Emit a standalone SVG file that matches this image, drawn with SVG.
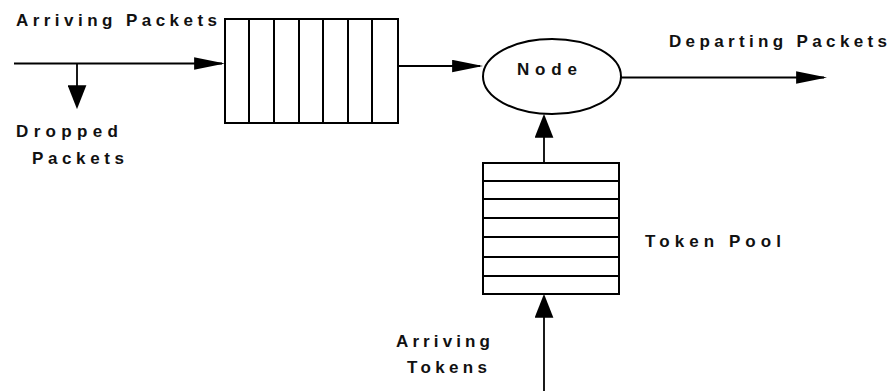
<svg xmlns="http://www.w3.org/2000/svg" width="896" height="391" viewBox="0 0 896 391">
  <style>
    .box { fill: #fff; stroke: #000; stroke-width: 2; }
    .div { stroke: #000; stroke-width: 2; fill: none; }
    .wire { stroke: #000; stroke-width: 1.8; fill: none; }
    .lbl { font-family: "Liberation Sans", Arial, sans-serif; font-weight: bold; font-size: 17px; fill: #111; }
  </style>
  <defs>
    <!-- long, slim head for horizontal links -->
    <marker id="headLong" markerUnits="userSpaceOnUse" markerWidth="31" markerHeight="13" viewBox="0 0 30 12" refX="27" refY="6" orient="auto">
      <path d="M0,0 L30,6 L0,12 z" fill="#000"/>
    </marker>
    <!-- short, wide head for vertical links -->
    <marker id="headWide" markerUnits="userSpaceOnUse" markerWidth="24" markerHeight="19" viewBox="0 0 23 18" refX="20" refY="9" orient="auto">
      <path d="M0,0 L23,9 L0,18 z" fill="#000"/>
    </marker>
  </defs>

  <rect width="896" height="391" fill="#fff"/>

  <!-- packet queue -->
  <g id="packet-queue">
    <rect class="box" x="225" y="19" width="173" height="104"/>
    <path class="div" d="M249,19 V123 M274,19 V123 M299,19 V123 M323,19 V123 M348,19 V123 M372,19 V123"/>
  </g>

  <!-- node -->
  <g id="node">
    <ellipse class="box" cx="552" cy="76.5" rx="69" ry="37.5"/>
    <text class="lbl" x="517" y="75" textLength="60" lengthAdjust="spacing">Node</text>
  </g>

  <!-- token pool -->
  <g id="token-pool">
    <rect class="box" x="483" y="163" width="136" height="131"/>
    <path class="div" d="M483,181 H619 M483,199 H619 M483,218 H619 M483,237 H619 M483,257 H619 M483,276 H619"/>
  </g>

  <!-- connectors -->
  <g id="connectors">
    <path class="wire" d="M14,63.5 H222" marker-end="url(#headLong)"/>
    <path class="wire" d="M77,63.5 V106" marker-end="url(#headWide)"/>
    <path class="wire" d="M398,66 H480" marker-end="url(#headLong)"/>
    <path class="wire" d="M621,77.5 H824" marker-end="url(#headLong)"/>
    <path class="wire" d="M544,163 V117" marker-end="url(#headWide)"/>
    <path class="wire" d="M544,391 V297" marker-end="url(#headWide)"/>
  </g>

  <!-- labels -->
  <g id="labels">
    <text class="lbl" x="16" y="26" textLength="201" lengthAdjust="spacing">Arriving Packets</text>
    <text class="lbl" x="16" y="137" textLength="102" lengthAdjust="spacing">Dropped</text>
    <text class="lbl" x="32" y="164" textLength="92" lengthAdjust="spacing">Packets</text>
    <text class="lbl" x="669" y="47" textLength="218" lengthAdjust="spacing">Departing Packets</text>
    <text class="lbl" x="645" y="247" textLength="136" lengthAdjust="spacing">Token Pool</text>
    <text class="lbl" x="396" y="347" textLength="94" lengthAdjust="spacing">Arriving</text>
    <text class="lbl" x="407" y="373" textLength="80" lengthAdjust="spacing">Tokens</text>
  </g>
</svg>
